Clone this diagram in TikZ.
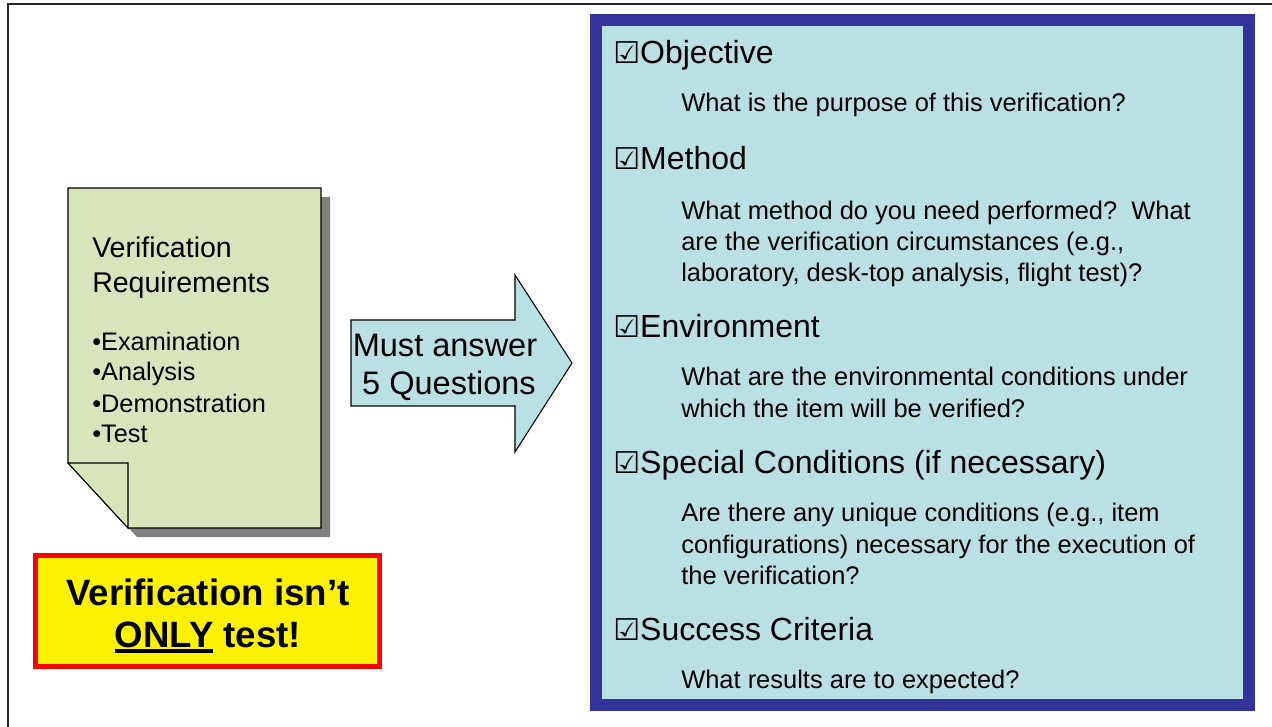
\documentclass[tikz,border=0pt]{standalone}
\usepackage{fontspec}
\setmainfont{Liberation Sans}
\newfontfamily\symfont{DejaVu Sans Bold}
\definecolor{panelblue}{RGB}{187,224,227}
\definecolor{paneledge}{RGB}{51,51,153}
\definecolor{docgreen}{RGB}{215,228,188}
\definecolor{shadowgray}{RGB}{128,128,128}
\newcommand\thickul[1]{\setbox0\hbox{#1}\rlap{\rule[-4.5pt]{\wd0}{3pt}}\box0\relax}
\newcommand\chk{{\symfont\fontsize{22.5}{22.5}\selectfont ☑}}
\tikzset{
  hdr/.style={anchor=base west, inner sep=0pt, font=\fontsize{24}{24}\selectfont},
  sub/.style={anchor=base west, inner sep=0pt, font=\fontsize{19.1}{19.1}\selectfont},
  doctitle/.style={anchor=base west, inner sep=0pt, font=\fontsize{21.4}{21.4}\selectfont},
  docitem/.style={anchor=base west, inner sep=0pt, font=\fontsize{19}{19}\selectfont},
  arrowtxt/.style={anchor=base, inner sep=0pt, font=\fontsize{24.4}{24.4}\selectfont},
  warntxt/.style={anchor=base, inner sep=0pt, font=\fontsize{27.5}{27.5}\selectfont\bfseries},
}
\begin{document}
\begin{tikzpicture}[x=0.75pt,y=-0.75pt]
\useasboundingbox (0,0) rectangle (1272,727);
% outer frame (top and left edges)
\draw[line width=1.5pt, black!85] (8,727) -- (8,4) -- (1272,4);

% question panel
\draw[line width=9pt, draw=paneledge, fill=panelblue] (596,20) rectangle (1249,705);

% requirements sheet with folded corner and drop shadow
\fill[shadowgray] (77,197) -- (330,197) -- (330,537) -- (137,537) -- (77,472) -- cycle;
\draw[fill=docgreen, line width=0.8pt] (68,188) -- (321,188) -- (321,528) -- (128,528) -- (68,463) -- cycle;
\draw[fill=docgreen, line width=0.8pt] (68,463) -- (128,463) -- (128,528) -- cycle;

\node[doctitle] (dt1) at (92,258) {Verification};
\node[doctitle] (dt2) at (92,293) {Requirements};
\node[docitem] (di1) at (92,351) {•Examination};
\node[docitem] (di2) at (92,381) {•Analysis};
\node[docitem] (di3) at (92,412) {•Demonstration};
\node[docitem] (di4) at (92,443) {•Test};

% block arrow
\draw[fill=panelblue, line width=0.8pt] (351,320) -- (515,320) -- (515,275) -- (572,363) -- (515,452) -- (515,406) -- (351,406) -- cycle;
\node[arrowtxt] (a1) at (445,357) {Must answer};
\node[arrowtxt] (a2) at (449,395) {5 Questions};

% warning box
\draw[fill=yellow, draw=red, line width=3.75pt] (35.5,555.5) rectangle (379.5,666.5);
\node[warntxt] (w1) at (208,605) {Verification isn’t};
\node[warntxt] (w2) at (208,647) {\thickul{ONLY} test!};

% questions
\node[hdr] (h1) at (613,64) {\chk Objective};
\node[sub] (s1) at (681,112) {What is the purpose of this verification?};
\node[hdr] (h2) at (613,170) {\chk Method};
\node[sub] (s2a) at (681,220) {What method do you need performed?\ \ What};
\node[sub] (s2b) at (681,251) {are the verification circumstances (e.g.,};
\node[sub] (s2c) at (681,282) {laboratory, desk-top analysis, flight test)?};
\node[hdr] (h3) at (613,338) {\chk Environment};
\node[sub] (s3a) at (681,386) {What are the environmental conditions under};
\node[sub] (s3b) at (681,417) {which the item will be verified?};
\node[hdr] (h4) at (613,474) {\chk Special Conditions (if necessary)};
\node[sub] (s4a) at (681,522) {Are there any unique conditions (e.g., item};
\node[sub] (s4b) at (681,553) {configurations) necessary for the execution of};
\node[sub] (s4c) at (681,584) {the verification?};
\node[hdr] (h5) at (613,640) {\chk Success Criteria};
\node[sub] (s5) at (681,688) {What results are to expected?};
\end{tikzpicture}
\end{document}
